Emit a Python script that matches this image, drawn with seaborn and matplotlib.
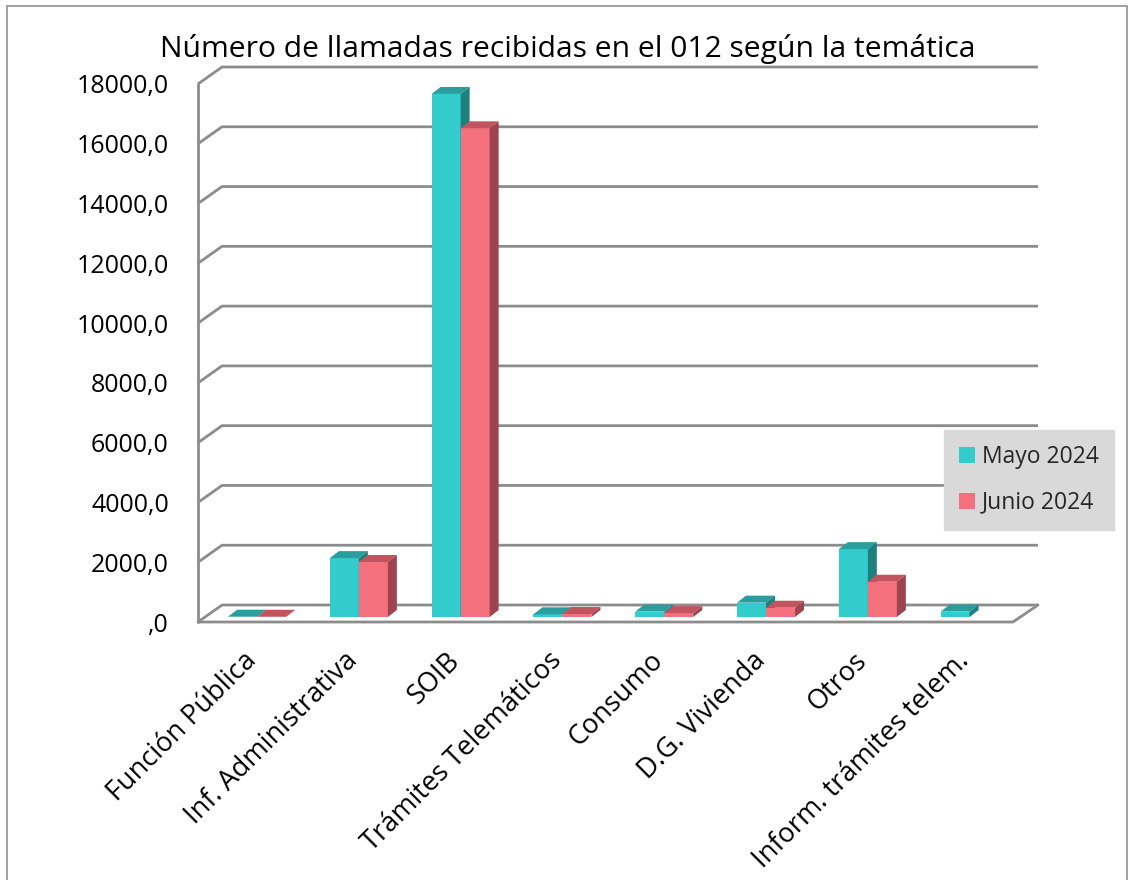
import numpy as np
import pandas as pd
import matplotlib
matplotlib.use("Agg")
import matplotlib.pyplot as plt
import seaborn as sns
from matplotlib.patches import Polygon, Rectangle
from matplotlib.lines import Line2D

# ---------------- data ----------------
categorias = ["Función Pública", "Inf. Administrativa", "SOIB", "Trámites Telemáticos",
              "Consumo", "D.G. Vivienda", "Otros", "Inform. trámites telem."]
series = ["Mayo 2024", "Junio 2024"]
mayo_2024 = [10, 1970, 17500, 90, 180, 480, 2270, 180]
junio_2024 = [8, 1840, 16350, 100, 130, 310, 1180, np.nan]
yticks = [0, 2000, 4000, 6000, 8000, 10000, 12000, 14000, 16000, 18000]
ytick_labels = [",0", "2000,0", "4000,0", "6000,0", "8000,0", "10000,0",
                "12000,0", "14000,0", "16000,0", "18000,0"]
titulo = "Número de llamadas recibidas en el 012 según la temática"

# ---------------- style ----------------
W, H = 1129, 880
teal, teal_top, teal_side = "#33CCCC", "#2A9E9E", "#1F8080"
pink, pink_top, pink_side = "#F4707D", "#C2545F", "#9E4450"
grid_c = "#8C8C8C"

sns.set_theme(style="white")
plt.rcParams["font.family"] = ["Open Sans", "DejaVu Sans"]

fig = plt.figure(figsize=(W / 100, H / 100), dpi=100)
fig.patch.set_facecolor("white")


def fx(px):
    return px / W


def fy(py):
    return 1 - py / H


# bar plane: value 0 at y=617px, 18000 at y=79px
ppy = (617 - 79) / 18000.0       # pixels per data unit
extra_px = 7.0                   # room below so the ",0" label is drawn
ax = fig.add_axes([fx(198), fy(617 + extra_px), fx(1013) - fx(198),
                   fy(79) - fy(617 + extra_px)])
ax.set_facecolor("none")
ylo = -extra_px / ppy

df = pd.DataFrame({
    "categoria": categorias * 2,
    "serie": [series[0]] * len(categorias) + [series[1]] * len(categorias),
    "valor": mayo_2024 + junio_2024,
})

sns.barplot(data=df, x="categoria", y="valor", hue="serie", order=categorias,
            hue_order=series, palette=[teal, pink], width=0.57, saturation=1,
            errorbar=None, linewidth=0, ax=ax, zorder=3)

xl = (-0.58, 7.426)
ax.set_xlim(*xl)
ax.set_ylim(ylo, 18000)
for s in ax.spines.values():
    s.set_visible(False)
ax.grid(False)
ax.set_xlabel("")
ax.set_ylabel("")

T = ax.transData
inv = ax.transData.inverted()


def to_data(pt):
    return inv.transform(pt)


def disp(x, y):
    return T.transform((x, y))


front_dy = -5.0   # front plane relative to bar plane (px, up positive)
left_x, right_x = xl

# back wall gridlines + left wall diagonals
for v in yticks:
    fpt = disp(left_x, v) + np.array([0, front_dy])
    bpt = disp(left_x, v) + np.array([24, front_dy + 17])
    rpt = disp(right_x, v) + np.array([25, front_dy + 17])
    pts = np.array([to_data(fpt), to_data(bpt), to_data(rpt)])
    ax.add_line(Line2D(pts[:, 0], pts[:, 1], color=grid_c, lw=2.0, zorder=1,
                       clip_on=False, solid_capstyle="butt"))

# left wall front vertical edge
p0 = to_data(disp(left_x, 0) + np.array([0, front_dy]))
p1 = to_data(disp(left_x, 18000) + np.array([0, front_dy]))
ax.add_line(Line2D([p0[0], p1[0]], [p0[1], p1[1]], color=grid_c, lw=2.0,
                   zorder=1, clip_on=False))
# floor front edge and right diagonal
fr = disp(right_x, 0) + np.array([0, front_dy])
br = disp(right_x, 0) + np.array([25, front_dy + 17])
fl = disp(left_x, 0) + np.array([0, front_dy])
pts = np.array([to_data(fl), to_data(fr), to_data(br)])
ax.add_line(Line2D(pts[:, 0], pts[:, 1], color=grid_c, lw=2.0, zorder=5,
                   clip_on=False))

# 3D faces on bars
d = np.array([9.0, 7.0])
face_cols = [(teal_top, teal_side), (pink_top, pink_side)]
for k, cont in enumerate(ax.containers):
    for bar in cont:
        h = bar.get_height()
        if h is None or np.isnan(h):
            bar.set_visible(False)
            continue
        x0 = bar.get_x()
        w = bar.get_width()
        bar.set_zorder(3 + k * 0.2)
        bar.set_clip_on(False)
        tl, tr = disp(x0, h), disp(x0 + w, h)
        brr = disp(x0 + w, 0)
        top = np.array([to_data(p) for p in (tl, tr, tr + d, tl + d)])
        side = np.array([to_data(p) for p in (brr, tr, tr + d, brr + d)])
        ax.add_patch(Polygon(top, closed=True, facecolor=face_cols[k][0],
                             edgecolor="none", zorder=3.1 + k * 0.2, clip_on=False))
        ax.add_patch(Polygon(side, closed=True, facecolor=face_cols[k][1],
                             edgecolor="none", zorder=3.1 + k * 0.2, clip_on=False))

# y tick labels at the front plane
shift = front_dy / ppy
ax.set_yticks([v + shift for v in yticks], ytick_labels)
ax.tick_params(axis="y", length=0, pad=21, labelsize=18, labelcolor="black")
ax.set_ylim(ylo, 18000)

# x tick labels
ax.set_xticks(range(len(categorias)), categorias)
ax.tick_params(axis="x", length=0, pad=32 - extra_px * 0.72, labelsize=19.5,
               labelcolor="black")
for lbl in ax.get_xticklabels():
    lbl.set_rotation(45)
    lbl.set_ha("right")
    lbl.set_va("baseline")
    lbl.set_rotation_mode("anchor")

# legend
sns.move_legend(ax, "upper left", bbox_to_anchor=(fx(944), fy(430)),
                bbox_transform=fig.transFigure, title=None, frameon=True,
                fancybox=False, facecolor="#D9D9D9", edgecolor="#D9D9D9",
                framealpha=1, fontsize=16.5, handlelength=0.7, handleheight=0.7,
                handletextpad=0.3, borderpad=0.65, labelspacing=0.95,
                borderaxespad=0)

# title
fig.text(fx(568), fy(57), titulo, ha="center", va="baseline", fontsize=21.6,
         color="black")

# outer border
fig.patches.append(Rectangle((fx(7), -0.02), fx(1127) - fx(7), fy(6) + 0.02,
                             transform=fig.transFigure, fill=False,
                             edgecolor="#9A9A9A", lw=1.3, zorder=0))

fig.savefig("out.png", dpi=100)
